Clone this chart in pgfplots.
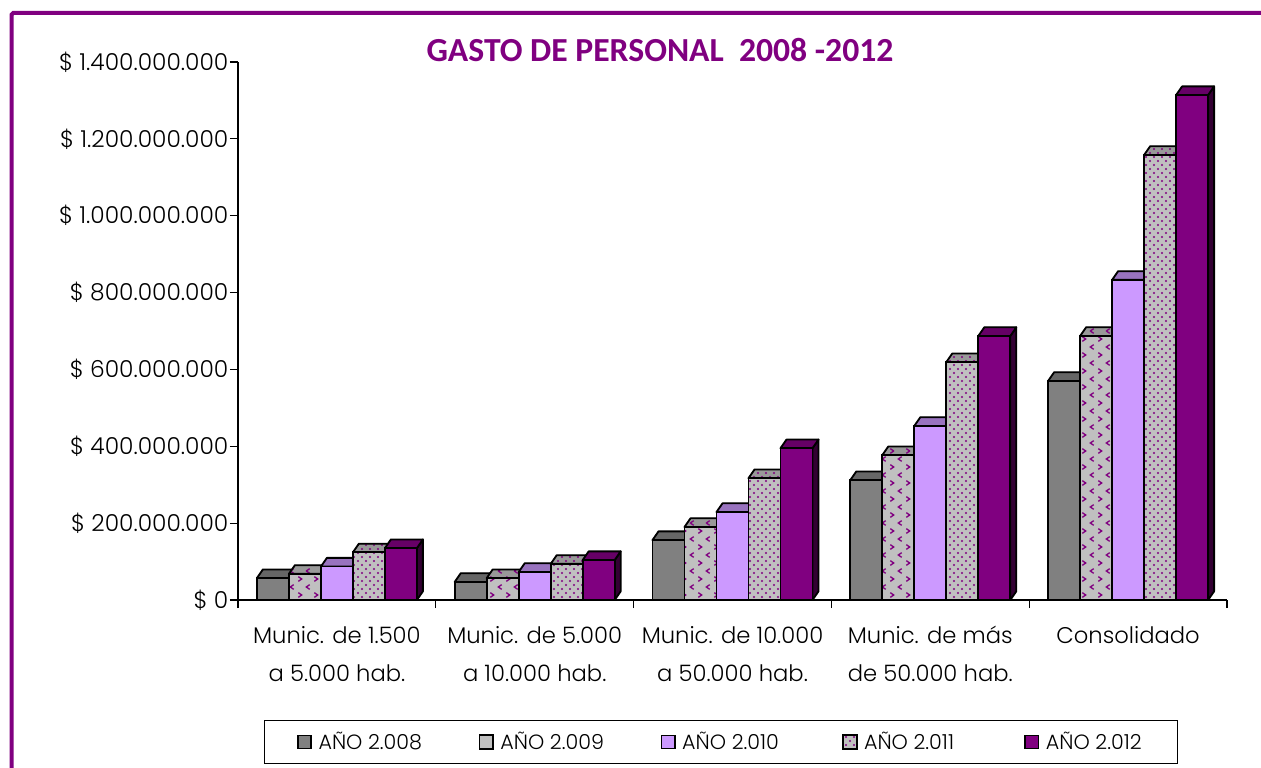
\documentclass[border=0pt]{standalone}
\usepackage{pgfplots}
\usepackage{pgfplotstable}
\usepackage{fontspec}
\pgfplotsset{compat=1.18}
\usetikzlibrary{patterns}
\setmainfont{Poppins Light}
\newfontfamily\titlefont{Carlito}

\definecolor{violeta}{HTML}{800080}
\definecolor{lila}{HTML}{CC99FF}
\definecolor{plata}{HTML}{C0C0C0}

% 1 px of the reference = 0.6pt
\pgfdeclarepatternformonly{puntos}{\pgfqpoint{-1pt}{-1pt}}{\pgfqpoint{5.8pt}{5.8pt}}{\pgfqpoint{4.8pt}{4.8pt}}{
  \pgfpathcircle{\pgfqpoint{1.2pt}{1.2pt}}{0.65pt}
  \pgfpathcircle{\pgfqpoint{3.6pt}{3.6pt}}{0.65pt}
  \pgfusepath{fill}
}
\pgfdeclarepatternformonly{flechas}{\pgfqpoint{-1pt}{-1pt}}{\pgfqpoint{10.6pt}{10.6pt}}{\pgfqpoint{9.6pt}{9.6pt}}{
  \pgfsetlinewidth{0.8pt}
  \pgfpathmoveto{\pgfqpoint{3.4pt}{3.8pt}}\pgfpathlineto{\pgfqpoint{1.4pt}{2.4pt}}\pgfpathlineto{\pgfqpoint{3.4pt}{1pt}}
  \pgfpathmoveto{\pgfqpoint{6.2pt}{8.6pt}}\pgfpathlineto{\pgfqpoint{8.2pt}{7.2pt}}\pgfpathlineto{\pgfqpoint{6.2pt}{5.8pt}}
  \pgfusepath{stroke}
}
\pgfdeclareplotmark{vacio}{}
\newcommand{\ent}[1]{\makebox[62pt][l]{#1}}
\newcommand{\lin}{\rule{0pt}{12pt}}

\pgfplotstableread{
x    a08  a09  a10  a11   a12
0.5  57   68   87   124   135
1.5  47   57   73   94    104
2.5  156  190  229  317   395
3.5  312  377  453  619   687
4.5  570  687  833  1158  1314
}\gasto

% top and side faces of a bar: #1 column, #2 shift, #3 top, #4 side, #5 top pattern
\newcommand{\caras}[5]{
  \addplot[forget plot, only marks, mark=vacio, scatter,
    visualization depends on={rawy \as \valor},
    scatter/@post marker code/.code={},
    scatter/@pre marker code/.code={
      \pgfmathsetmacro{\alto}{\valor*0.230571}
      \draw[black, line width=1.1pt, line join=round, fill=#4]
        (#2+9.6pt,0pt) -- (#2+13.2pt,5.2pt) -- (#2+13.2pt,5.2pt-\alto pt) -- (#2+9.6pt,-\alto pt) -- cycle;
      \draw[black, line width=1.1pt, line join=round, preaction={fill=#3}, #5]
        (#2-9.6pt,0pt) -- (#2-6pt,5.2pt) -- (#2+13.2pt,5.2pt) -- (#2+9.6pt,0pt) -- cycle;
    },
  ] table[x=x, y=#1] {\gasto};
}

\begin{document}
\begin{tikzpicture}
\useasboundingbox (0,0) rectangle (756.6pt,460.2pt);
\draw[violeta, line width=2.4pt, rounded corners=1pt] (7pt,-2pt) -- (7pt,452.4pt) -- (760pt,452.4pt);
\node[font=\titlefont\bfseries\fontsize{20.2}{23}\selectfont, text=violeta] at (396pt,430pt) {GASTO DE PERSONAL~~2008 -2012};
\begin{axis}[
    at={(142.8pt,100.2pt)}, anchor=south west,
    scale only axis, width=593.4pt, height=322.8pt,
    xmin=0, xmax=5, ymin=0, ymax=1400,
    clip=false, clip mode=individual,
    axis x line=bottom, axis y line=left,
    axis line style={-, black, line width=0.7pt},
    tick style={black, line width=0.7pt},
    tick align=outside, major tick length=4.8pt,
    xtick={0,1,2,3,4,5}, xticklabels={},
    extra x ticks={0.5,1.5,2.5,3.5,4.5},
    extra x tick style={major tick length=0pt},
    extra x tick labels={\lin Munic. de 1.500\\a 5.000 hab., \lin Munic. de 5.000\\a 10.000 hab., \lin Munic. de 10.000\\a 50.000 hab., \lin Munic. de más\\de 50.000 hab., \lin Consolidado},
    xticklabel style={align=center, font=\fontsize{13.6}{22.8}\selectfont, yshift=-10.5pt, anchor=north},
    ytick={0,200,400,600,800,1000,1200,1400},
    yticklabels={\$ 0, \$ 200.000.000, \$ 400.000.000, \$ 600.000.000, \$ 800.000.000, \$ 1.000.000.000, \$ 1.200.000.000, \$ 1.400.000.000},
    yticklabel style={font=\fontsize{14}{16}\selectfont, xshift=2.5pt},
    legend columns=5,
    legend cell align=left,
    legend style={at={(0.4884,-0.264)}, anchor=center, draw=black, line width=0.6pt,
      font=\fontsize{12.4}{14}\selectfont, inner xsep=19.5pt, inner ysep=5pt,
      /tikz/every even column/.style={column sep=32.2pt},
      /tikz/every odd column/.append style={column sep=2pt}},
]
\caras{a08}{-38.4pt}{black!60}{black!70}{}
\addplot[ybar, bar width=19.2pt, bar shift=-38.4pt, fill=black!50, draw=black, line width=1.1pt,
  legend image code/.code={\draw[black, line width=0.9pt, fill=black!50] (0pt,-4pt) rectangle (8pt,4pt);}]
  table[x=x, y=a08] {\gasto};
\addlegendentry{\ent{AÑO 2.008}}

\caras{a09}{-19.2pt}{black!40}{black!70}{pattern=flechas, pattern color=violeta}
\addplot[ybar, bar width=19.2pt, bar shift=-19.2pt, preaction={fill=plata}, pattern=flechas, pattern color=violeta, draw=black, line width=1.1pt,
  legend image code/.code={\draw[black, line width=0.9pt, fill=plata] (0pt,-4pt) rectangle (8pt,4pt);}]
  table[x=x, y=a09] {\gasto};
\addlegendentry{\ent{AÑO 2.009}}

\caras{a10}{0pt}{lila!75!black}{lila!40!black}{}
\addplot[ybar, bar width=19.2pt, bar shift=0pt, fill=lila, draw=black, line width=1.1pt,
  legend image code/.code={\draw[black, line width=0.9pt, fill=lila] (0pt,-4pt) rectangle (8pt,4pt);}]
  table[x=x, y=a10] {\gasto};
\addlegendentry{\ent{AÑO 2.010}}

\caras{a11}{19.2pt}{black!40}{black!70}{pattern=puntos, pattern color=violeta}
\addplot[ybar, bar width=19.2pt, bar shift=19.2pt, preaction={fill=plata}, pattern=puntos, pattern color=violeta, draw=black, line width=1.1pt,
  legend image code/.code={\draw[black, line width=0.9pt, preaction={fill=plata}, pattern=puntos, pattern color=violeta] (0pt,-4pt) rectangle (8pt,4pt);}]
  table[x=x, y=a11] {\gasto};
\addlegendentry{\ent{AÑO 2.011}}

\caras{a12}{38.4pt}{violeta!80!black}{violeta!40!black}{}
\addplot[ybar, bar width=19.2pt, bar shift=38.4pt, fill=violeta, draw=black, line width=1.1pt,
  legend image code/.code={\draw[black, line width=0.9pt, fill=violeta] (0pt,-4pt) rectangle (8pt,4pt);}]
  table[x=x, y=a12] {\gasto};
\addlegendentry{AÑO 2.012}
\end{axis}
\end{tikzpicture}
\end{document}
